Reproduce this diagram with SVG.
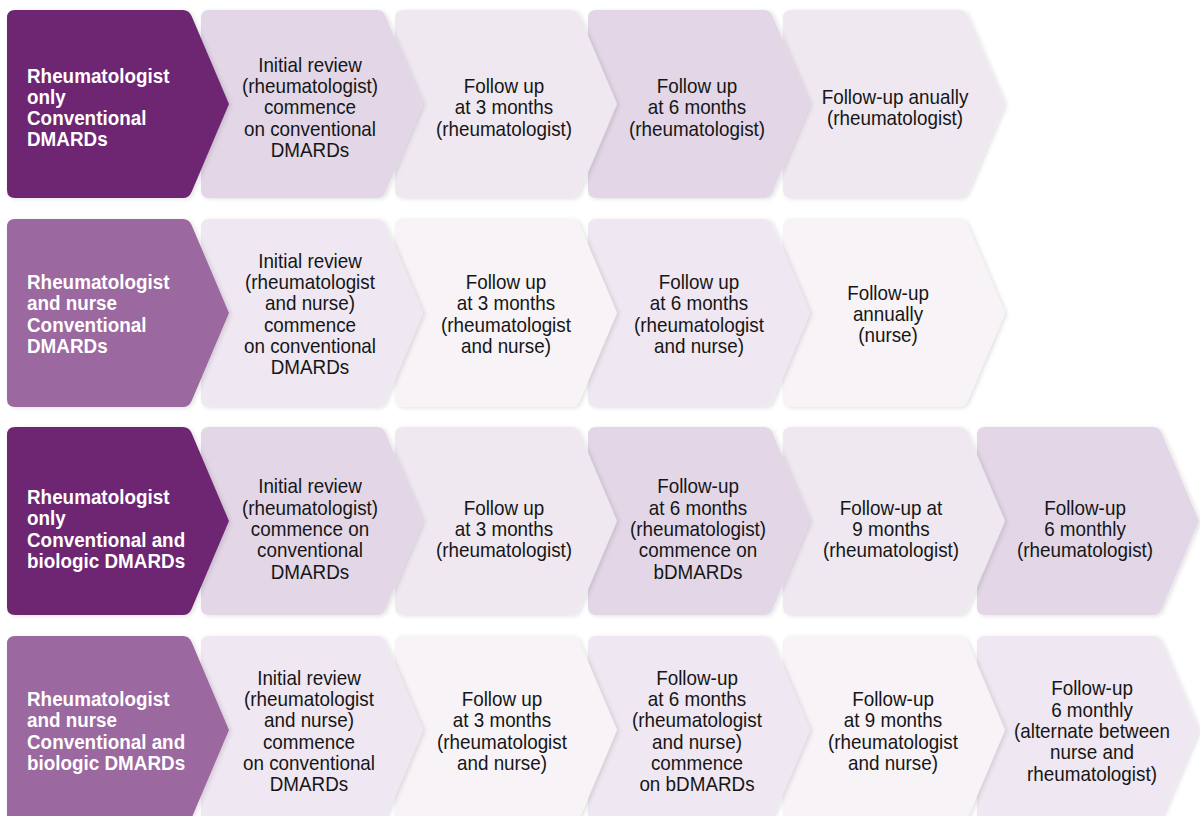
<svg xmlns="http://www.w3.org/2000/svg" xmlns:xlink="http://www.w3.org/1999/xlink" width="1200" height="816" viewBox="0 0 1200 816">
<defs>
<filter id="sh" x="-10%" y="-10%" width="130%" height="130%">
<feDropShadow dx="2" dy="1" stdDeviation="2" flood-color="#000" flood-opacity="0.12"/>
</filter>
<path id="chev" d="M8,0 H176 Q182,0 184.6,6 L222,94 L184.6,182 Q182,188 176,188 H8 Q0,188 0,180 V8 Q0,0 8,0 Z"/>
</defs>
<style>
.hd{fill:#6e2773}
.hl{fill:#9b679f}
.a{fill:#e2d6e7}
.b{fill:#efe8f1}
.c{fill:#efe7f1}
.d{fill:#f7f3f7}
use{filter:url(#sh)}
.t{font-family:"Liberation Sans",Arial,sans-serif;font-size:20.5px;fill:#161616;text-anchor:middle}
.h{font-family:"Liberation Sans",Arial,sans-serif;font-size:20.5px;font-weight:bold;fill:#ffffff}
</style>
<rect width="1200" height="816" fill="#ffffff"/>
<g id="connectors"/>

<!-- Row 1 -->
<g id="r1s4"><use href="#chev" x="783" y="10" class="b"/>
<text class="t" transform="translate(895 0) scale(0.92 1)"><tspan x="0" y="103.9">Follow-up anually</tspan><tspan x="0" y="125.2">(rheumatologist)</tspan></text></g>
<g id="r1s3"><use href="#chev" x="588" y="10" class="a"/>
<text class="t" transform="translate(697 0) scale(0.92 1)"><tspan x="0" y="93.2">Follow up</tspan><tspan x="0" y="114.5">at 6 months</tspan><tspan x="0" y="135.8">(rheumatologist)</tspan></text></g>
<g id="r1s2"><use href="#chev" x="395" y="10" class="b"/>
<text class="t" transform="translate(504 0) scale(0.92 1)"><tspan x="0" y="93.2">Follow up</tspan><tspan x="0" y="114.5">at 3 months</tspan><tspan x="0" y="135.8">(rheumatologist)</tspan></text></g>
<g id="r1s1"><use href="#chev" x="201" y="10" class="a"/>
<text class="t" transform="translate(310 0) scale(0.92 1)"><tspan x="0" y="71.9">Initial review</tspan><tspan x="0" y="93.2">(rheumatologist)</tspan><tspan x="0" y="114.5">commence</tspan><tspan x="0" y="135.8">on conventional</tspan><tspan x="0" y="157.1">DMARDs</tspan></text></g>
<g id="r1h"><use href="#chev" x="7" y="10" class="hd"/>
<text class="h" transform="translate(27 0) scale(0.92 1)"><tspan x="0" y="82.6">Rheumatologist</tspan><tspan x="0" y="103.9">only</tspan><tspan x="0" y="125.2">Conventional</tspan><tspan x="0" y="146.5">DMARDs</tspan></text></g>

<!-- Row 2 -->
<g id="r2s4"><use href="#chev" x="783" y="219" class="d"/>
<text class="t" transform="translate(888 0) scale(0.92 1)"><tspan x="0" y="299.7">Follow-up</tspan><tspan x="0" y="321">annually</tspan><tspan x="0" y="342.3">(nurse)</tspan></text></g>
<g id="r2s3"><use href="#chev" x="588" y="219" class="c"/>
<text class="t" transform="translate(699 0) scale(0.92 1)"><tspan x="0" y="289.1">Follow up</tspan><tspan x="0" y="310.4">at 6 months</tspan><tspan x="0" y="331.7">(rheumatologist</tspan><tspan x="0" y="353">and nurse)</tspan></text></g>
<g id="r2s2"><use href="#chev" x="395" y="219" class="d"/>
<text class="t" transform="translate(506 0) scale(0.92 1)"><tspan x="0" y="289.1">Follow up</tspan><tspan x="0" y="310.4">at 3 months</tspan><tspan x="0" y="331.7">(rheumatologist</tspan><tspan x="0" y="353">and nurse)</tspan></text></g>
<g id="r2s1"><use href="#chev" x="201" y="219" class="c"/>
<text class="t" transform="translate(310 0) scale(0.92 1)"><tspan x="0" y="267.8">Initial review</tspan><tspan x="0" y="289.1">(rheumatologist</tspan><tspan x="0" y="310.4">and nurse)</tspan><tspan x="0" y="331.7">commence</tspan><tspan x="0" y="353">on conventional</tspan><tspan x="0" y="374.3">DMARDs</tspan></text></g>
<g id="r2h"><use href="#chev" x="7" y="219" class="hl"/>
<text class="h" transform="translate(27 0) scale(0.92 1)"><tspan x="0" y="289.1">Rheumatologist</tspan><tspan x="0" y="310.4">and nurse</tspan><tspan x="0" y="331.7">Conventional</tspan><tspan x="0" y="353">DMARDs</tspan></text></g>

<!-- Row 3 -->
<g id="r3s5"><use href="#chev" x="977" y="427" class="a"/>
<text class="t" transform="translate(1085 0) scale(0.92 1)"><tspan x="0" y="514.7">Follow-up</tspan><tspan x="0" y="536">6 monthly</tspan><tspan x="0" y="557.3">(rheumatologist)</tspan></text></g>
<g id="r3s4"><use href="#chev" x="783" y="427" class="b"/>
<text class="t" transform="translate(891 0) scale(0.92 1)"><tspan x="0" y="514.7">Follow-up at</tspan><tspan x="0" y="536">9 months</tspan><tspan x="0" y="557.3">(rheumatologist)</tspan></text></g>
<g id="r3s3"><use href="#chev" x="588" y="427" class="a"/>
<text class="t" transform="translate(698 0) scale(0.92 1)"><tspan x="0" y="493.4">Follow-up</tspan><tspan x="0" y="514.7">at 6 months</tspan><tspan x="0" y="536">(rheumatologist)</tspan><tspan x="0" y="557.3">commence on</tspan><tspan x="0" y="578.6">bDMARDs</tspan></text></g>
<g id="r3s2"><use href="#chev" x="395" y="427" class="b"/>
<text class="t" transform="translate(504 0) scale(0.92 1)"><tspan x="0" y="514.7">Follow up</tspan><tspan x="0" y="536">at 3 months</tspan><tspan x="0" y="557.3">(rheumatologist)</tspan></text></g>
<g id="r3s1"><use href="#chev" x="201" y="427" class="a"/>
<text class="t" transform="translate(310 0) scale(0.92 1)"><tspan x="0" y="493.4">Initial review</tspan><tspan x="0" y="514.7">(rheumatologist)</tspan><tspan x="0" y="536">commence on</tspan><tspan x="0" y="557.3">conventional</tspan><tspan x="0" y="578.6">DMARDs</tspan></text></g>
<g id="r3h"><use href="#chev" x="7" y="427" class="hd"/>
<text class="h" transform="translate(27 0) scale(0.92 1)"><tspan x="0" y="504">Rheumatologist</tspan><tspan x="0" y="525.3">only</tspan><tspan x="0" y="546.6">Conventional and</tspan><tspan x="0" y="567.9">biologic DMARDs</tspan></text></g>

<!-- Row 4 -->
<g id="r4s5"><use href="#chev" x="977" y="636" class="c"/>
<text class="t" transform="translate(1092 0) scale(0.92 1)"><tspan x="0" y="695.4">Follow-up</tspan><tspan x="0" y="716.7">6 monthly</tspan><tspan x="0" y="738">(alternate between</tspan><tspan x="0" y="759.3">nurse and</tspan><tspan x="0" y="780.6">rheumatologist)</tspan></text></g>
<g id="r4s4"><use href="#chev" x="783" y="636" class="d"/>
<text class="t" transform="translate(893 0) scale(0.92 1)"><tspan x="0" y="706">Follow-up</tspan><tspan x="0" y="727.3">at 9 months</tspan><tspan x="0" y="748.6">(rheumatologist</tspan><tspan x="0" y="769.9">and nurse)</tspan></text></g>
<g id="r4s3"><use href="#chev" x="588" y="636" class="c"/>
<text class="t" transform="translate(697 0) scale(0.92 1)"><tspan x="0" y="684.8">Follow-up</tspan><tspan x="0" y="706.1">at 6 months</tspan><tspan x="0" y="727.4">(rheumatologist</tspan><tspan x="0" y="748.7">and nurse)</tspan><tspan x="0" y="770">commence</tspan><tspan x="0" y="791.3">on bDMARDs</tspan></text></g>
<g id="r4s2"><use href="#chev" x="395" y="636" class="d"/>
<text class="t" transform="translate(502 0) scale(0.92 1)"><tspan x="0" y="706">Follow up</tspan><tspan x="0" y="727.3">at 3 months</tspan><tspan x="0" y="748.6">(rheumatologist</tspan><tspan x="0" y="769.9">and nurse)</tspan></text></g>
<g id="r4s1"><use href="#chev" x="201" y="636" class="c"/>
<text class="t" transform="translate(309 0) scale(0.92 1)"><tspan x="0" y="684.8">Initial review</tspan><tspan x="0" y="706.1">(rheumatologist</tspan><tspan x="0" y="727.4">and nurse)</tspan><tspan x="0" y="748.7">commence</tspan><tspan x="0" y="770">on conventional</tspan><tspan x="0" y="791.3">DMARDs</tspan></text></g>
<g id="r4h"><use href="#chev" x="7" y="636" class="hl"/>
<text class="h" transform="translate(27 0) scale(0.92 1)"><tspan x="0" y="706">Rheumatologist</tspan><tspan x="0" y="727.3">and nurse</tspan><tspan x="0" y="748.6">Conventional and</tspan><tspan x="0" y="769.9">biologic DMARDs</tspan></text></g>
</svg>
